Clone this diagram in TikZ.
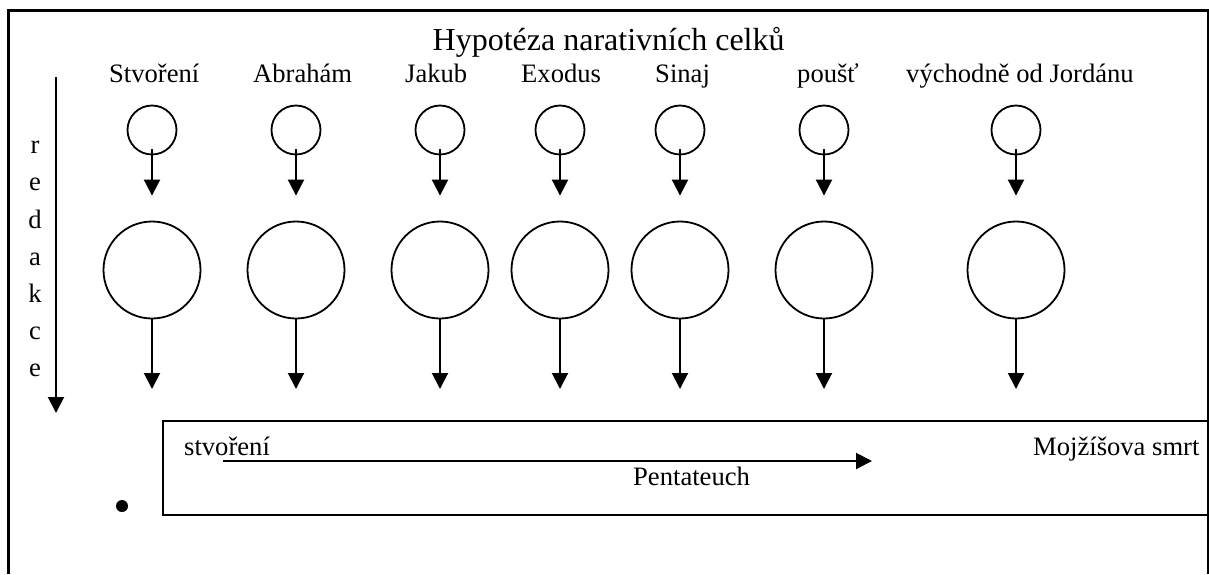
\documentclass[tikz,border=0pt]{standalone}
\usepackage{fontspec}
\setmainfont{Liberation Serif}
\usetikzlibrary{arrows.meta}
\tikzset{
  arrowline/.style={line width=2pt,-{Triangle[width=16pt,length=16pt]}},
  small/.style={circle,draw,line width=1.8pt,minimum size=49pt,inner sep=0pt},
  large/.style={circle,draw,line width=1.8pt,minimum size=97pt,inner sep=0pt},
  lab/.style={anchor=base west,inner sep=0pt,font=\fontsize{26.6}{26.6}\selectfont},
  vlab/.style={anchor=base,inner sep=0pt,font=\fontsize{26.6}{26.6}\selectfont}
}
\begin{document}
\begin{tikzpicture}[x=1pt,y=-1pt]
\useasboundingbox (0,0) rectangle (1209,574);
\fill[white] (0,0) rectangle (1209,574);
% outer frame
\draw[line width=3pt] (8,574) -- (8,10.5) -- (1208,10.5) -- (1208,574);
% title
\node[lab,font=\fontsize{32}{32}\selectfont] (title) at (432.5,50) {Hypotéza narativních celků};
% column labels
\node[lab] (t1) at (109,82) {Stvoření};
\node[lab] (t2) at (253,82) {Abrahám};
\node[lab] (t3) at (405,82) {Jakub};
\node[lab] (t4) at (521,82) {Exodus};
\node[lab] (t5) at (655,82) {Sinaj};
\node[lab] (t6) at (797,82) {poušť};
\node[lab] (t7) at (906,82) {východně od Jordánu};
% columns
\foreach \i/\x in {1/152,2/296,3/440,4/560,5/680,6/824,7/1016}{
  \node[small] (s\i) at (\x,130) {};
  \node[large] (b\i) at (\x,270) {};
  \coordinate (e\i) at (\x,389);
  \draw[arrowline] ([yshift=-19pt]s\i.center) -- ([yshift=25pt]b\i.north);
  \draw[arrowline] (b\i.south) -- (e\i);
}
% redakce
\coordinate (ra) at (56,77);
\coordinate (rb) at (56,413);
\draw[arrowline] (ra) -- (rb);
\foreach \c/\y/\n in {r/153/v1,e/190/v2,d/228/v3,a/265/v4,k/302/v5,c/339/v6,e/376/v7}{
  \node[vlab] (\n) at (35,\y) {\c};
}
% Pentateuch box
\draw[line width=2pt] (1208,421) -- (163,421) -- (163,515) -- (1208,515);
\node[lab] (st) at (184,455) {stvoření};
\node[lab] (mo) at (1033,455) {Mojžíšova smrt};
\node[lab] (pe) at (633,485) {Pentateuch};
\coordinate (pa) at (223,461);
\coordinate (pb) at (872,461);
\draw[arrowline] (pa) -- (pb);
% bullet
\node[circle,fill=black,minimum size=12pt,inner sep=0pt] (dot) at (122,506) {};
\end{tikzpicture}
\end{document}
